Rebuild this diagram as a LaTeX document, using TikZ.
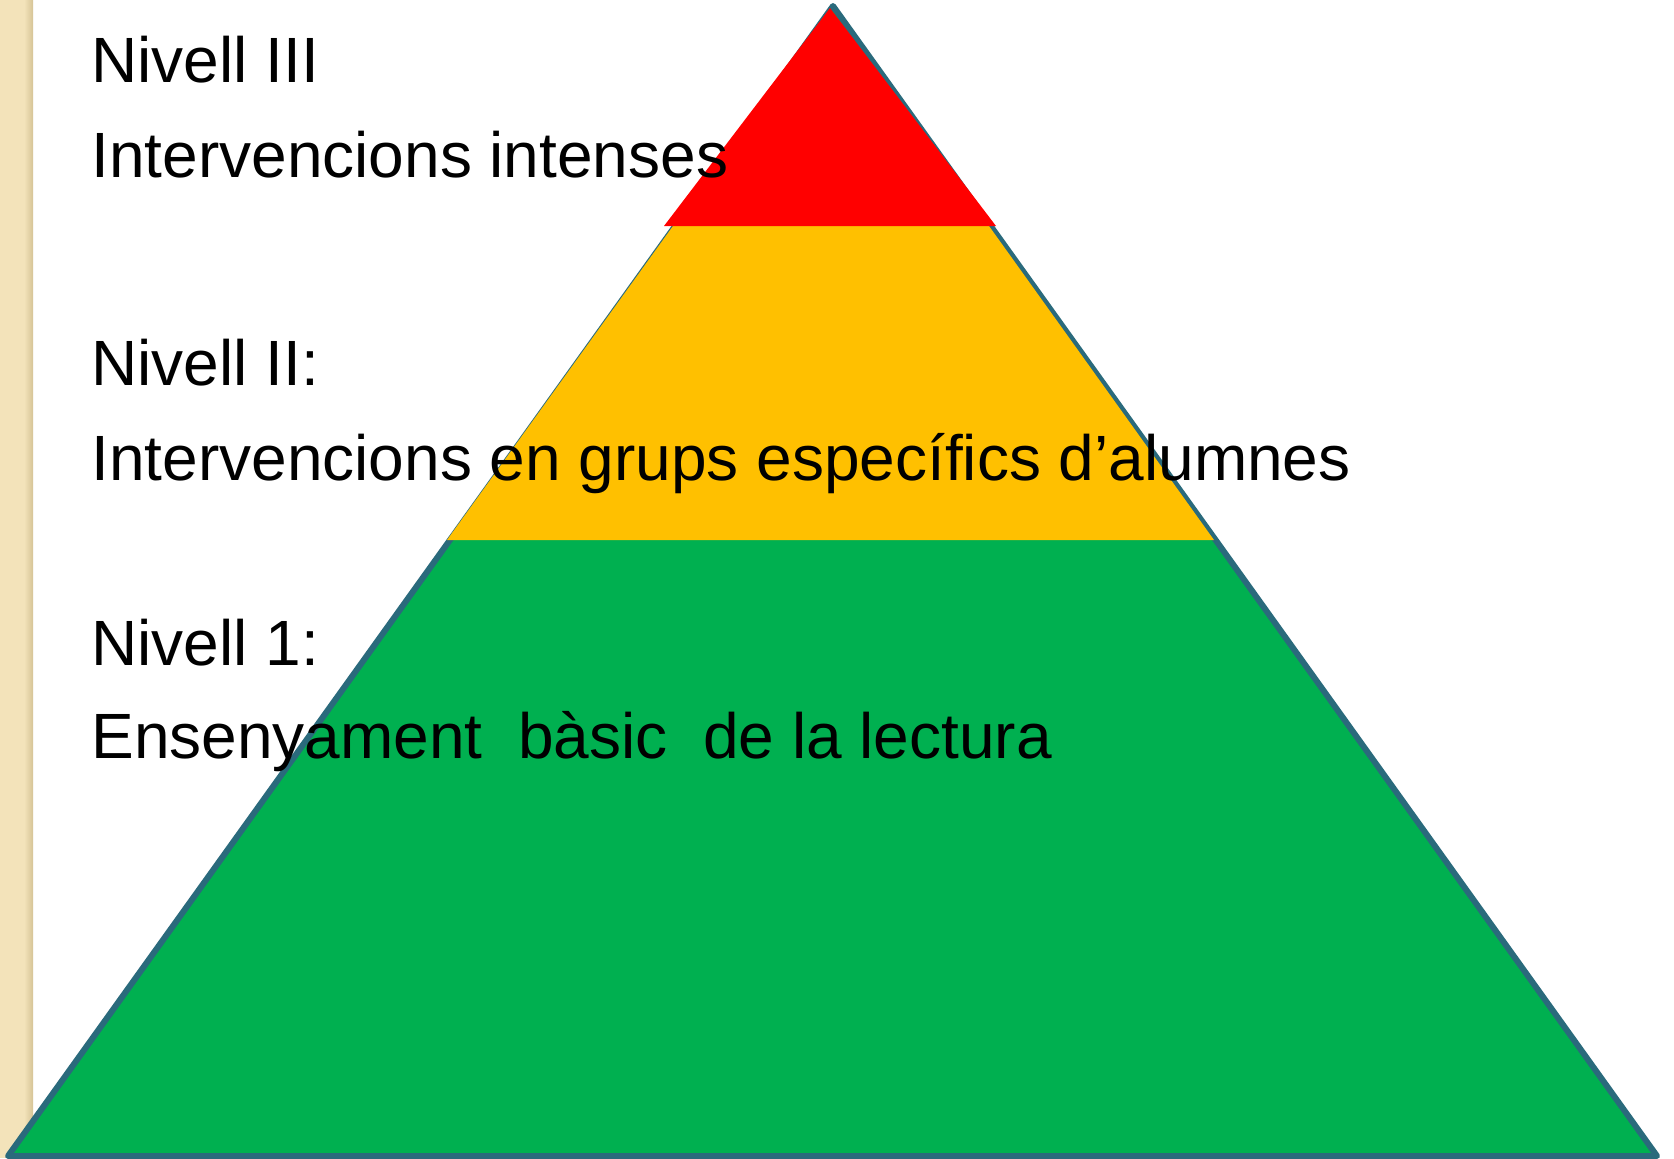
\documentclass[tikz,border=0pt]{standalone}
\usepackage{fontspec}
\setmainfont{Liberation Sans}
\definecolor{stripbg}{RGB}{243,227,186}
\definecolor{stripdark}{RGB}{214,196,150}
\definecolor{pgreen}{RGB}{0,176,80}
\definecolor{pyellow}{RGB}{255,192,0}
\definecolor{pred}{RGB}{255,0,0}
\definecolor{pline}{RGB}{42,106,124}
\tikzset{
  lbl/.style={anchor=base west, inner sep=0pt, font=\fontsize{32pt}{38pt}\selectfont, text=black},
}
\begin{document}
\begin{tikzpicture}[x=0.5pt,y=-0.5pt]
\useasboundingbox (0,0) rectangle (1674,1158);
\fill[white] (0,0) rectangle (1674,1158);
% left decorative strip
\fill[stripbg] (0,0) rectangle (33,1158);
\shade[left color=stripbg, right color=stripdark] (24,0) rectangle (33,1158);
% pyramid
\filldraw[fill=pgreen, draw=pline, line width=3pt, line join=round] (833,6) -- (1657,1156) -- (8,1156) -- cycle;
\fill[pyellow] (447,540) -- (1214,540) -- (989,226) -- (673,226) -- cycle;
\fill[pred] (830,8) -- (996,226) -- (664,226) -- cycle;
% labels
\node[lbl] (n3) at (91,82) {Nivell III};
\node[lbl] (d3) at (91,177) {Intervencions intenses};
\node[lbl] (n2) at (91,385) {Nivell II:};
\node[lbl] (d2) at (91,480) {Intervencions en grups específics d’alumnes};
\node[lbl] (n1) at (91,665) {Nivell 1:};
\node[lbl] (d1) at (91,758) {Ensenyament\ \ bàsic\ \ de la lectura};
\end{tikzpicture}
\end{document}
